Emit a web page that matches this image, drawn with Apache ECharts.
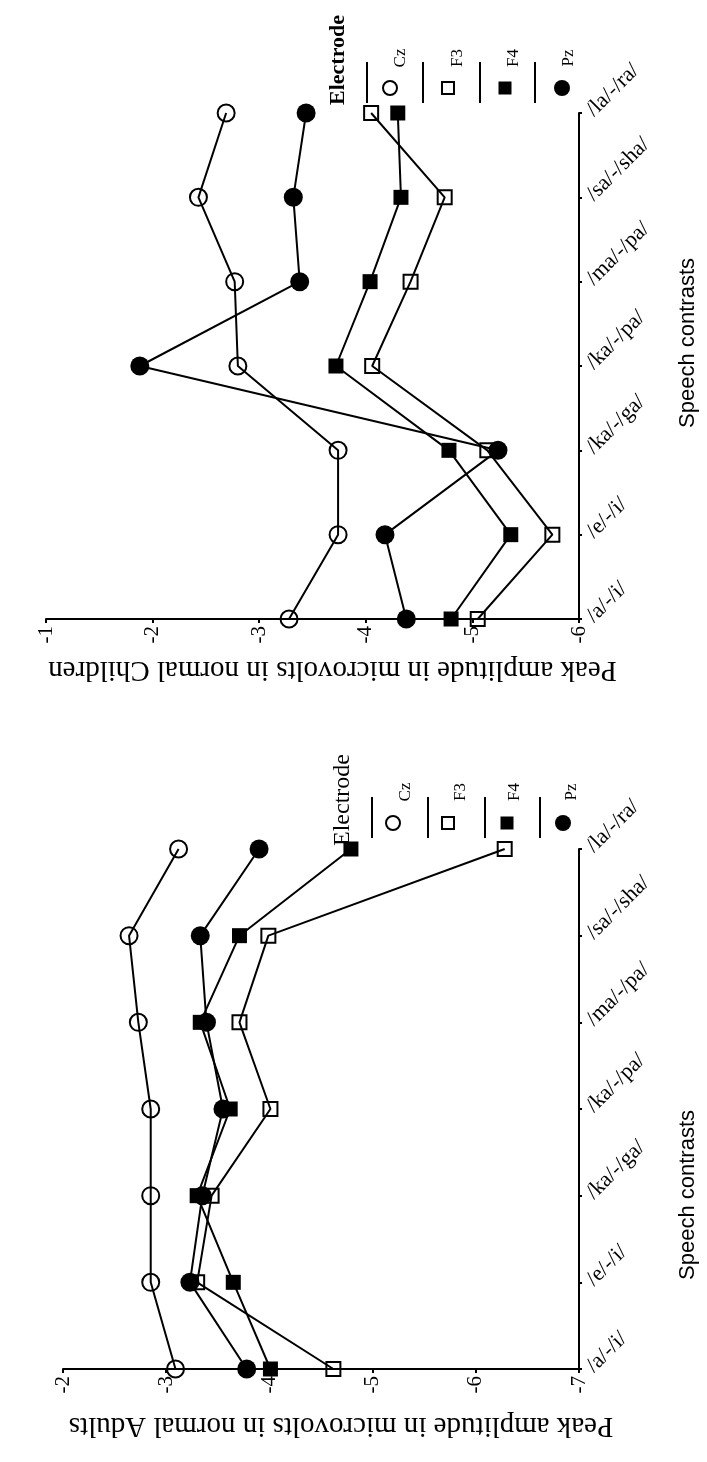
<!DOCTYPE html>
<html><head><meta charset="utf-8">
<script src="https://cdn.jsdelivr.net/npm/echarts@6/dist/echarts.min.js"></script>
<style>html,body{margin:0;padding:0;background:#fff}#c{width:707px;height:1462px}</style>
</head><body><div id="c"></div>
<script>
// ---- data ----
const categories = ["/a/-/i/", "/e/-/i/", "/ka/-/ga/", "/ka/-/pa/", "/ma/-/pa/", "/sa/-/sha/", "/la/-/ra/"];
const electrodes = ["Cz", "F3", "F4", "Pz"];
const childTicks = [-6, -5, -4, -3, -2, -1];
const adultTicks = [-7, -6, -5, -4, -3, -2];
const childCz = [-3.28, -3.74, -3.74, -2.80, -2.77, -2.43, -2.69];
const childF3 = [-5.05, -5.75, -5.14, -4.06, -4.42, -4.74, -4.05];
const childF4 = [-4.80, -5.36, -4.78, -3.72, -4.04, -4.33, -4.30];
const childPz = [-4.38, -4.18, -5.24, -1.88, -3.38, -3.32, -3.44];
const adultCz = [-3.09, -2.85, -2.85, -2.85, -2.73, -2.64, -3.12];
const adultF3 = [-4.62, -3.30, -3.44, -4.01, -3.71, -3.99, -6.28];
const adultF4 = [-4.01, -3.65, -3.30, -3.62, -3.33, -3.71, -4.79];
const adultPz = [-3.78, -3.23, -3.35, -3.55, -3.39, -3.33, -3.90];
const childTitle = "Peak amplitude in microvolts in normal Children";
const adultTitle = "Peak amplitude in microvolts in normal Adults";
const catTitle = "Speech contrasts";
const legendTitle = "Electrode";

// ---- styles ----
const SERIF = '"Liberation Serif", "Times New Roman", serif';
const SANS = '"Liberation Sans", Arial, sans-serif';
const symStyle = {
  Cz: {symbol: 'circle', size: 17, fill: 'rgba(0,0,0,0)', border: 2},
  F3: {symbol: 'rect', size: 14, fill: 'rgba(0,0,0,0)', border: 2},
  F4: {symbol: 'rect', size: 15, fill: '#000', border: 0},
  Pz: {symbol: 'circle', size: 19, fill: '#000', border: 0}
};

function makeSeries(name, values, idx) {
  const s = symStyle[name];
  return {
    type: 'line', name: name + (idx ? ' (adults)' : ' (children)'),
    xAxisIndex: idx, yAxisIndex: idx,
    data: values.map((v, i) => [v, categories[i]]),
    symbol: s.symbol, symbolSize: s.size, showSymbol: true,
    lineStyle: {color: '#000', width: 2},
    itemStyle: {color: s.fill, borderColor: '#000', borderWidth: s.border, opacity: 1},
    emphasis: {disabled: true}, animation: false, z: 3
  };
}

function valueAxis(gi, ticks, title, gap, pad) {
  return {
    gridIndex: gi, type: 'value', inverse: true,
    min: Math.min(...ticks), max: Math.max(...ticks), interval: 1,
    position: 'bottom',
    axisLine: {show: true, onZero: false, lineStyle: {color: '#000', width: 2}},
    axisTick: {show: true, length: 4, lineStyle: {color: '#000', width: 2}},
    splitLine: {show: false},
    axisLabel: {rotate: 90, color: '#000', fontFamily: SERIF, fontSize: 21, margin: 7,
                showMinLabel: true, showMaxLabel: true},
    name: title, nameLocation: 'middle', nameRotate: 180, nameGap: gap,
    nameTextStyle: {color: '#000', fontFamily: SERIF, fontSize: 29, padding: pad}
  };
}

function catAxis(gi, gap, pad) {
  return {
    gridIndex: gi, type: 'category', data: categories, boundaryGap: false, position: 'right',
    axisLine: {show: true, onZero: false, lineStyle: {color: '#000', width: 2}},
    axisTick: {show: true, length: 3, lineStyle: {color: '#000', width: 2}},
    splitLine: {show: false},
    axisLabel: {rotate: 45, interval: 0, color: '#000', fontFamily: SERIF, fontSize: 22, margin: 11},
    name: catTitle, nameLocation: 'middle', nameRotate: 90, nameGap: gap,
    nameTextStyle: {color: '#000', fontFamily: SANS, fontSize: 22, padding: pad}
  };
}

// ---- legend drawn as graphic (rotated like the rest of the figure) ----
function legendGraphics(cfg) {
  const els = [];
  els.push({type: 'text', x: cfg.titleX, y: cfg.titleY, rotation: Math.PI / 2, silent: true,
    style: {text: legendTitle, fill: '#000', font: cfg.titleWeight + ' ' + cfg.titleSize + 'px ' + SERIF,
            align: 'center', verticalAlign: 'middle'}});
  electrodes.forEach((e, i) => {
    const lx = cfg.lineX[i], mx = cfg.markX[i];
    els.push({type: 'line', silent: true, shape: {x1: lx, y1: cfg.lineY0, x2: lx, y2: cfg.lineY1},
              style: {stroke: '#000', lineWidth: 2}});
    const s = symStyle[e];
    const filled = s.fill === '#000';
    const st = filled ? {fill: '#000', stroke: null} : {fill: 'rgba(0,0,0,0)', stroke: '#000', lineWidth: 2};
    if (s.symbol === 'circle') {
      els.push({type: 'circle', silent: true, shape: {cx: mx, cy: cfg.markY, r: filled ? 8 : 7}, style: st});
    } else {
      const w = filled ? 13 : 12;
      els.push({type: 'rect', silent: true, shape: {x: mx - w / 2, y: cfg.markY - w / 2, width: w, height: w}, style: st});
    }
    els.push({type: 'text', silent: true, x: cfg.labX[i], y: cfg.labY, rotation: Math.PI / 2,
      style: {text: e, fill: '#000', font: '17px ' + SERIF, align: 'center', verticalAlign: 'middle'}});
  });
  return els;
}

const chart = echarts.init(document.getElementById('c'), null, {renderer: 'canvas'});
chart.setOption({
  backgroundColor: '#fff',
  animation: false,
  grid: [
    {left: 46, top: 113, width: 535, height: 506},
    {left: 63, top: 849, width: 522, height: 520}
  ],
  xAxis: [valueAxis(0, childTicks, childTitle, 36, [0, 40, 0, 0]),
          valueAxis(1, adultTicks, adultTitle, 42, [0, 40, 0, 0])],
  yAxis: [catAxis(0, 98, [0, 0, 0, 46]), catAxis(1, 98, [0, 172, 0, 0])],
  series: [
    makeSeries('Cz', childCz, 0), makeSeries('F3', childF3, 0),
    makeSeries('F4', childF4, 0), makeSeries('Pz', childPz, 0),
    makeSeries('Cz', adultCz, 1), makeSeries('F3', adultF3, 1),
    makeSeries('F4', adultF4, 1), makeSeries('Pz', adultPz, 1)
  ],
  graphic: legendGraphics({
      titleX: 338, titleY: 60, titleSize: 22, titleWeight: 'bold',
      lineX: [367, 423, 480, 535], lineY0: 62, lineY1: 103,
      markX: [390, 448, 505, 562], markY: 88,
      labX: [401, 458, 514, 569], labY: 58
    }).concat(legendGraphics({
      titleX: 343, titleY: 800, titleSize: 24, titleWeight: 'normal',
      lineX: [372, 428, 485, 540], lineY0: 797, lineY1: 838,
      markX: [393, 448, 507, 563], markY: 823,
      labX: [406, 461, 515, 572], labY: 792
    }))
});
</script></body></html>
